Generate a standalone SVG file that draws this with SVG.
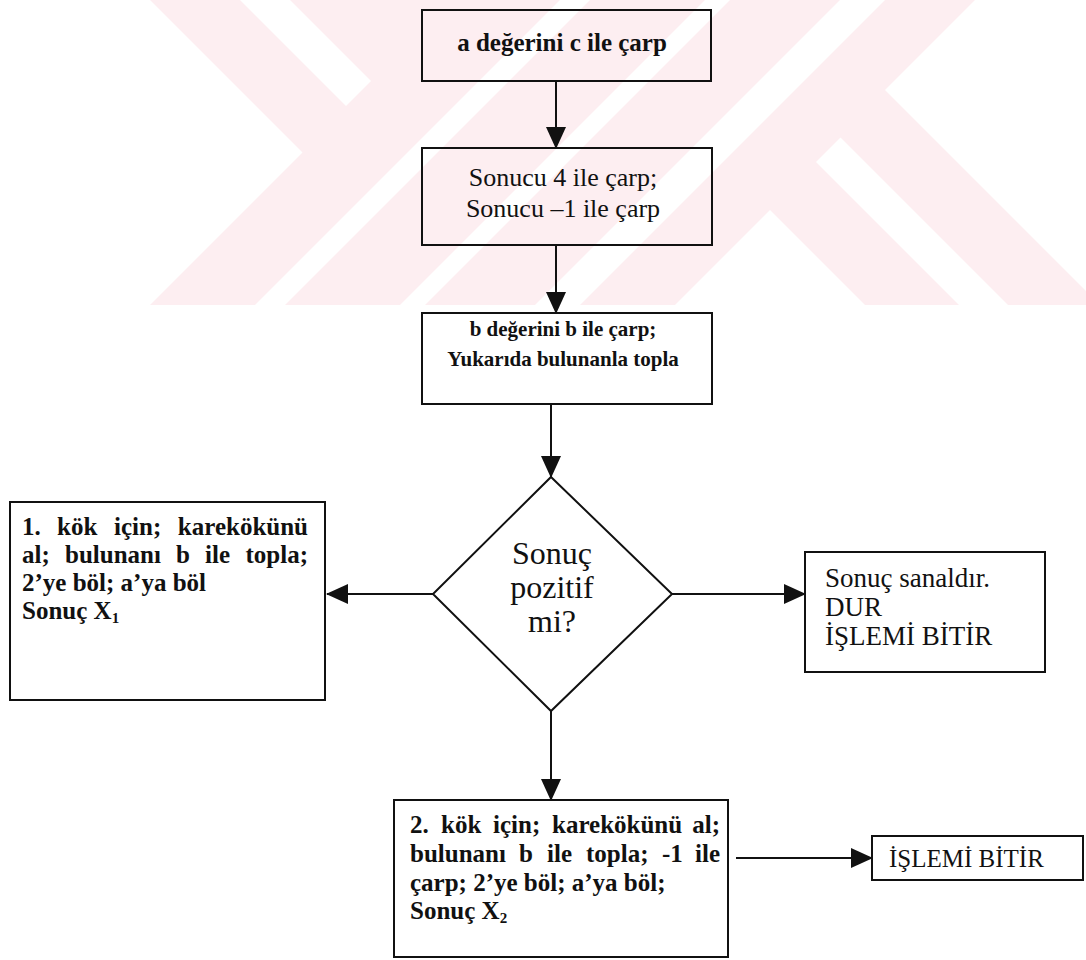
<svg xmlns="http://www.w3.org/2000/svg" width="1086" height="960" viewBox="0 0 1086 960">
<defs>
<style>
.box{fill:none;stroke:#111;stroke-width:2}
.t{font-family:"Liberation Serif","Times New Roman",serif;fill:#111}
.b{font-weight:bold;font-size:25px}
.r{font-size:26px}
.wm{fill:#fdeef1}
.wh{fill:#ffffff}
#connectors line{stroke:#111;stroke-width:2}
</style>
<marker id="ah" markerUnits="userSpaceOnUse" markerWidth="22" markerHeight="22" refX="21" refY="10" orient="auto"><path d="M0,0 L22,10 L0,20 z" fill="#111"/></marker>
<clipPath id="wmclip"><rect x="0" y="0" width="1086" height="305"/></clipPath>
</defs>
<rect x="0" y="0" width="1086" height="960" fill="#fff"/>
<g id="watermark" clip-path="url(#wmclip)">
<rect class="wm" x="0" y="0" width="1086" height="305"/>
<polygon class="wh" points="0,0 150,0 302.5,152.5 150,305 0,305"/>
<polygon class="wh" points="240,0 290,0 371,81 346,106"/>
<polygon class="wh" points="560,0 590,0 285,305 255,305"/>
<polygon class="wh" points="705,0 730,0 425,305 400,305"/>
<polygon class="wh" points="840,0 885,0 580,305 535,305"/>
<polygon class="wh" points="975,0 1086,0 1086,291 885,90"/>
<polygon class="wh" points="770,210 865,305 675,305"/>
<polygon class="wh" points="816,162 840.5,137.5 1008,305 959,305"/>
</g>
<g id="connectors">
<line x1="556" y1="81" x2="556" y2="148" marker-end="url(#ah)"/>
<line x1="556" y1="245" x2="556" y2="313" marker-end="url(#ah)"/>
<line x1="551" y1="404" x2="551" y2="477" marker-end="url(#ah)"/>
<line x1="433" y1="594" x2="327" y2="594" marker-end="url(#ah)"/>
<line x1="672" y1="594" x2="805" y2="594" marker-end="url(#ah)"/>
<line x1="551" y1="711" x2="551" y2="800" marker-end="url(#ah)"/>
<line x1="736" y1="858" x2="872" y2="858" marker-end="url(#ah)"/>
</g>
<g id="n1">
<rect class="box" x="422" y="10" width="289" height="71"/>
<text class="t b" x="562" y="51" text-anchor="middle">a değerini c ile çarp</text>
</g>
<g id="n2">
<rect class="box" x="422" y="148" width="290" height="97"/>
<text class="t r" x="563" y="186" text-anchor="middle">Sonucu 4 ile çarp;</text>
<text class="t r" x="563" y="217" text-anchor="middle">Sonucu –1 ile çarp</text>
</g>
<g id="n3">
<rect class="box" x="422" y="313" width="290" height="91"/>
<text class="t" font-weight="bold" font-size="21" x="563" y="336" text-anchor="middle">b değerini b ile çarp;</text>
<text class="t" font-weight="bold" font-size="21" x="563" y="366" text-anchor="middle">Yukarıda bulunanla topla</text>
</g>
<g id="decision">
<polygon class="box" points="551,477 672,594 551,711 433,594"/>
<text class="t" font-size="32" x="552" y="564" text-anchor="middle">Sonuç</text>
<text class="t" font-size="32" x="552" y="598" text-anchor="middle">pozitif</text>
<text class="t" font-size="32" x="552" y="632" text-anchor="middle">mi?</text>
</g>
<g id="root1">
<rect class="box" x="10" y="502" width="315" height="198"/>
<text class="t b" y="535"><tspan x="22">1.</tspan><tspan x="57">kök</tspan><tspan x="114">için;</tspan><tspan x="308" text-anchor="end">karekökünü</tspan></text>
<text class="t b" y="563"><tspan x="22">al;</tspan><tspan x="65">bulunanı</tspan><tspan x="176">b</tspan><tspan x="205">ile</tspan><tspan x="308" text-anchor="end">topla;</tspan></text>
<text class="t b" x="22" y="591">2’ye böl; a’ya böl</text>
<text class="t b" x="22" y="619">Sonuç X<tspan font-size="15" dy="4">1</tspan></text>
</g>
<g id="imaginary">
<rect class="box" x="805" y="552" width="240" height="120"/>
<text class="t" font-size="27" x="825" y="587">Sonuç sanaldır.</text>
<text class="t" font-size="27" x="825" y="616">DUR</text>
<text class="t" font-size="27" x="825" y="645">İŞLEMİ BİTİR</text>
</g>
<g id="root2">
<rect class="box" x="394" y="800" width="334" height="157"/>
<text class="t b" y="833"><tspan x="410">2.</tspan><tspan x="441">kök</tspan><tspan x="493">için;</tspan><tspan x="552">karekökünü</tspan><tspan x="720" text-anchor="end">al;</tspan></text>
<text class="t b" y="862"><tspan x="410">bulunanı</tspan><tspan x="519">b</tspan><tspan x="547">ile</tspan><tspan x="586">topla;</tspan><tspan x="662">-1</tspan><tspan x="720" text-anchor="end">ile</tspan></text>
<text class="t b" x="410" y="891">çarp; 2’ye böl; a’ya böl;</text>
<text class="t b" x="410" y="919">Sonuç X<tspan font-size="15" dy="4">2</tspan></text>
</g>
<g id="end">
<rect class="box" x="872" y="836" width="211" height="44"/>
<text class="t" font-size="25" x="889" y="867">İŞLEMİ BİTİR</text>
</g>
</svg>
